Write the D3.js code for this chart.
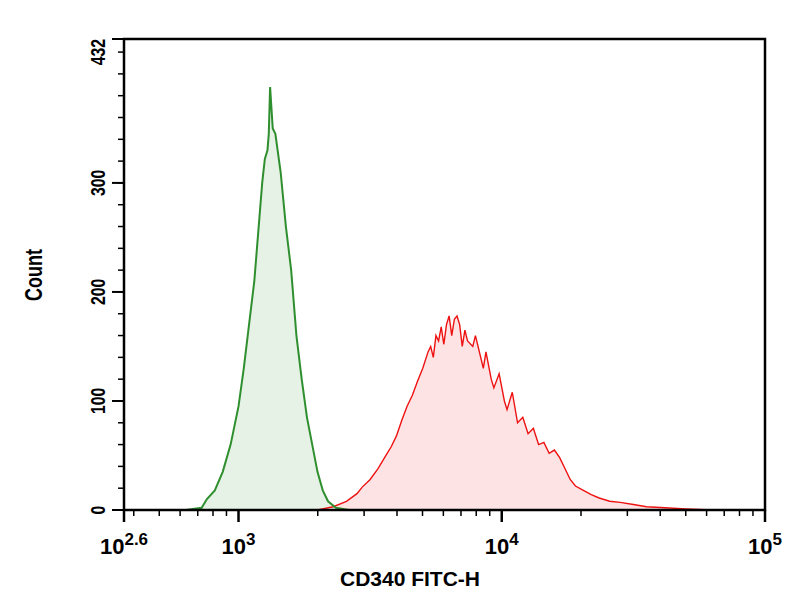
<!DOCTYPE html>
<html><head><meta charset="utf-8">
<script src="https://cdn.jsdelivr.net/npm/d3@7"></script>
<style>body{margin:0;background:#fff}</style>
</head><body><div id="mainDiv"></div>
<script>
// [log10(FITC-H), count]
let greenData = [[2.80,0],[2.86,2],[2.88,10],[2.91,18],[2.94,35],[2.97,60],[3.00,95],[3.02,130],[3.04,170],[3.06,210],[3.07,240],[3.08,270],[3.09,300],[3.10,322],[3.11,330],[3.115,345],[3.12,388],[3.13,350],[3.14,345],[3.16,310],[3.18,260],[3.20,220],[3.22,160],[3.24,120],[3.26,85],[3.28,60],[3.30,35],[3.32,18],[3.34,8],[3.37,2],[3.42,0]]
let redData = [[3.30,0],[3.36,3],[3.41,8],[3.45,15],[3.47,21],[3.50,28],[3.53,38],[3.56,50],[3.58,58],[3.60,68],[3.62,82],[3.64,95],[3.66,105],[3.68,118],[3.70,130],[3.72,145],[3.73,150],[3.74,140],[3.75,160],[3.76,155],[3.77,168],[3.78,152],[3.79,170],[3.80,178],[3.81,160],[3.82,175],[3.83,178],[3.84,170],[3.85,150],[3.86,165],[3.87,155],[3.89,150],[3.90,160],[3.92,140],[3.93,130],[3.94,145],[3.96,120],[3.97,112],[3.99,125],[4.01,100],[4.02,92],[4.04,108],[4.06,80],[4.08,85],[4.10,70],[4.12,75],[4.14,60],[4.16,62],[4.18,52],[4.20,55],[4.22,48],[4.24,38],[4.26,28],[4.28,22],[4.31,18],[4.34,14],[4.37,11],[4.41,8],[4.45,7],[4.50,5],[4.55,3],[4.62,2],[4.70,1],[4.80,0]]
let yTicks = [0,100,200,300,432]
let xTicks = [{e:2.565,label:"2.6"},{e:3,label:"3"},{e:4,label:"4"},{e:5,label:"5"}]

const box = {left:124, right:765, top:39, bottom:510}

let svg = d3.select("#mainDiv").append("svg").attr("width",804).attr("height",600)

let x = d3.scaleLinear().domain([2.565,5]).range([box.left,box.right])
let y = d3.scaleLinear().domain([0,432]).range([box.bottom,box.top])

// histograms
let area = d3.area().x(d => x(d[0])).y0(y(0)).y1(d => y(d[1]))
let line = d3.line().x(d => x(d[0])).y(d => y(d[1]))
svg.append("path").datum(redData).attr("d",area).attr("fill","#fde3e3")
svg.append("path").datum(greenData).attr("d",area).attr("fill","#e3f1e3").attr("opacity",0.9)
svg.append("path").datum(redData).attr("d",line).attr("fill","none").attr("stroke","#ee1111").attr("stroke-width",1.4)
svg.append("path").datum(greenData).attr("d",line).attr("fill","none").attr("stroke","#2f8f2f").attr("stroke-width",2)

// frame
svg.append("rect").attr("x",box.left).attr("y",box.top).attr("width",box.right-box.left).attr("height",box.bottom-box.top)
    .attr("fill","none").attr("stroke","#000").attr("stroke-width",2.5)

// y ticks
let g = svg.append("g")
d3.range(0,433,20).forEach(v => {
    g.append("line").attr("x1",box.left-6).attr("x2",box.left).attr("y1",y(v)).attr("y2",y(v)).attr("stroke","#000").attr("stroke-width",1.5)
})
yTicks.forEach(v => {
    g.append("line").attr("x1",box.left-12).attr("x2",box.left).attr("y1",y(v)).attr("y2",y(v)).attr("stroke","#000").attr("stroke-width",2)
    g.append("text").attr("transform","translate(" + (box.left-19) + "," + y(v) + ") rotate(-90) scale(0.75,1)")
        .attr("text-anchor", v == 432 ? "end" : "middle")
        .attr("font-family","Liberation Sans").attr("font-weight","bold").attr("font-size",21)
        .text(v)
})
svg.append("text").attr("transform","translate(42,275) rotate(-90) scale(0.75,1)").attr("text-anchor","middle")
    .attr("font-family","Liberation Sans").attr("font-weight","bold").attr("font-size",24).text("Count")

// x ticks (log minor)
for (let dec = 2; dec < 5; dec++) {
    for (let m = 2; m < 10; m++) {
        let e = dec + Math.log10(m)
        if (e < 2.565) continue
        g.append("line").attr("x1",x(e)).attr("x2",x(e)).attr("y1",box.bottom).attr("y2",box.bottom+6).attr("stroke","#000").attr("stroke-width",1.5)
    }
}
xTicks.forEach(t => {
    g.append("line").attr("x1",x(t.e)).attr("x2",x(t.e)).attr("y1",box.bottom).attr("y2",box.bottom+12).attr("stroke","#000").attr("stroke-width",2.5)
    let tx = g.append("text").attr("x",x(t.e)).attr("y",box.bottom+44).attr("text-anchor","middle")
        .attr("font-family","Liberation Sans").attr("font-weight","bold").attr("font-size",22)
    tx.append("tspan").text("10")
    tx.append("tspan").attr("dy",-9).attr("font-size",17).text(t.label)
})
svg.append("text").attr("x",340).attr("y",586).attr("font-family","Liberation Sans").attr("font-weight","bold").attr("font-size",21).text("CD340 FITC-H")
</script></body></html>
